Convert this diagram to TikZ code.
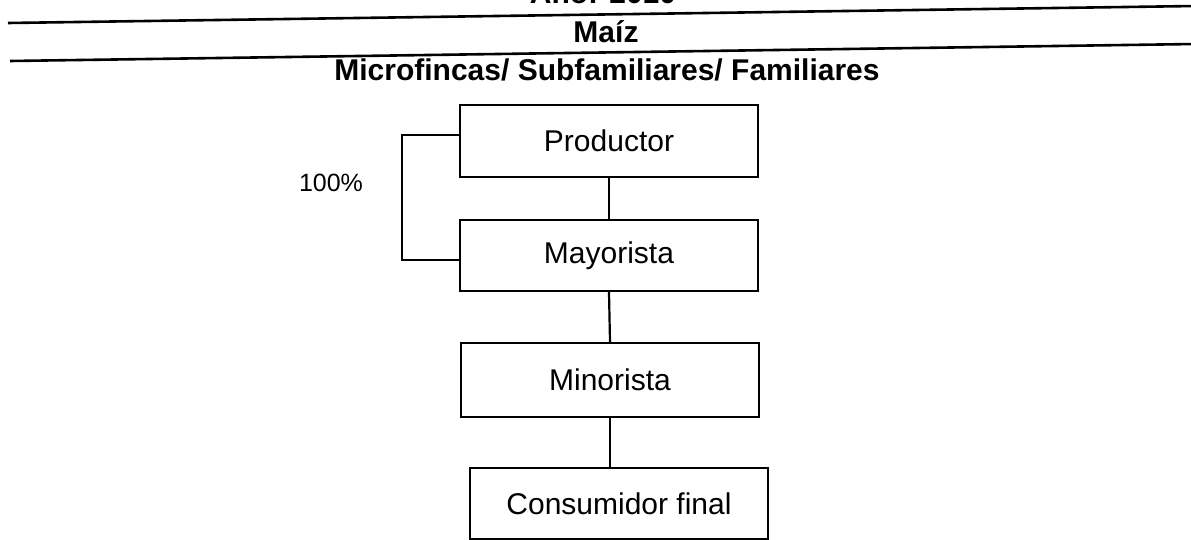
\documentclass[tikz,border=0pt]{standalone}
\usepackage{fontspec}
\setmainfont{Liberation Sans}
\usepackage{tikz}

\begin{document}
\begin{tikzpicture}[x=0.5pt, y=-0.5pt,
    box/.style={draw, line width=1.2pt, minimum width=149pt, minimum height=36pt,
                inner sep=0pt, font=\fontsize{15pt}{18pt}\selectfont},
    link/.style={line width=1.1pt},
    head/.style={font=\fontsize{15pt}{18pt}\selectfont\bfseries, anchor=base, inner sep=0pt},
    rule/.style={line width=1.3pt}]
  \useasboundingbox (0,0) rectangle (1191,540);

  % Header texts and rules
  \node[head] (anio) at (603,4) {Año: 2010};
  \draw[rule] (8,23) -- (1195,6);
  \node[head] (maiz) at (606,43) {Maíz};
  \draw[rule] (10,61) -- (1195,44);
  \node[head] (tipo) at (607,81) {Microfincas/ Subfamiliares/ Familiares};

  % Boxes of the chain
  \node[box] (prod) at (609,141) {Productor};
  \node[box, minimum height=35.5pt] (mayo) at (609,255.5) {Mayorista};
  \node[box, minimum height=37pt] (mino) at (610,380) {Minorista};
  \node[box, minimum height=35.5pt] (cons) at (619,503.5) {Consumidor final};

  % Vertical links
  \draw[link] (prod.south) -- (mayo.north);
  \draw[link] (mayo.south) -- (mino.north);
  \draw[link] (mino.south) -- (mino.south |- cons.north);

  % Bracket with share
  \draw[link] ([yshift=3pt]prod.west) -- ++(-57,0) |- ([yshift=-2.25pt]mayo.west);
  \node[font=\fontsize{12.5pt}{15pt}\selectfont, inner sep=0pt] (pct) at (331,183) {100\%};
\end{tikzpicture}
\end{document}
